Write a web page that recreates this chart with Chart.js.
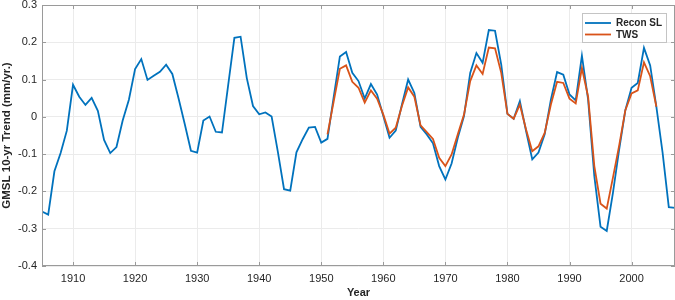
<!DOCTYPE html>
<html>
<head>
<meta charset="utf-8">
<script src="https://cdn.jsdelivr.net/npm/chart.js@4/dist/chart.umd.min.js"></script>
<style>
  html,body{margin:0;padding:0;background:#fff;}
  #wrap{width:675px;height:300px;position:relative;}
</style>
</head>
<body>
<div id="wrap"><canvas id="c"></canvas></div>
<script>
// years 1905..2007
const years=[1905,1906,1907,1908,1909,1910,1911,1912,1913,1914,1915,1916,1917,1918,1919,
  1920,1921,1922,1923,1924,1925,1926,1927,1928,1929,1930,1931,1932,1933,1934,1935,1936,1937,1938,1939,
  1940,1941,1942,1943,1944,1945,1946,1947,1948,1949,1950,1951,1952,1953,1954,1955,1956,1957,1958,1959,
  1960,1961,1962,1963,1964,1965,1966,1967,1968,1969,1970,1971,1972,1973,1974,1975,1976,1977,1978,1979,
  1980,1981,1982,1983,1984,1985,1986,1987,1988,1989,1990,1991,1992,1993,1994,1995,1996,1997,1998,1999,
  2000,2001,2002,2003,2004,2005,2006,2007];
const reconSL=[-0.254,-0.262,-0.146,-0.097,-0.037,
  0.086,0.054,0.032,0.051,0.016,-0.062,-0.097,-0.081,-0.010,0.046,
  0.128,0.155,0.099,0.110,0.121,0.140,0.115,0.050,-0.019,-0.091,
  -0.096,-0.010,0.001,-0.040,-0.042,0.085,0.212,0.215,0.104,0.029,
  0.007,0.012,0.001,-0.093,-0.194,-0.198,-0.095,-0.060,-0.029,-0.027,
  -0.069,-0.059,0.053,0.162,0.174,0.118,0.096,0.049,0.088,0.060,
  0.002,-0.056,-0.037,0.033,0.100,0.064,-0.027,-0.047,-0.071,-0.132,
  -0.168,-0.125,-0.056,0.002,0.118,0.171,0.145,0.233,0.231,0.140,
  0.008,-0.005,0.042,-0.038,-0.114,-0.096,-0.047,0.046,0.120,0.113,
  0.060,0.044,0.164,0.046,-0.159,-0.295,-0.306,-0.204,-0.088,0.018,
  0.078,0.091,0.185,0.138,0.027,-0.096,-0.242,-0.244];
// TWS 1951..2004
const twsYears=[1951,1952,1953,1954,1955,1956,1957,1958,1959,
  1960,1961,1962,1963,1964,1965,1966,1967,1968,1969,1970,1971,1972,1973,1974,1975,1976,1977,1978,1979,
  1980,1981,1982,1983,1984,1985,1986,1987,1988,1989,1990,1991,1992,1993,1994,1995,1996,1997,1998,1999,
  2000,2001,2002,2003,2004];
const tws=[-0.047,0.041,0.129,0.138,0.094,0.078,0.038,0.071,0.049,
  0.006,-0.045,-0.029,0.029,0.079,0.054,-0.023,-0.041,-0.059,-0.110,
  -0.132,-0.101,-0.047,0.006,0.096,0.138,0.115,0.186,0.184,0.118,
  0.008,-0.005,0.033,-0.034,-0.092,-0.079,-0.043,0.033,0.094,0.091,
  0.049,0.036,0.131,0.054,-0.132,-0.233,-0.246,-0.163,-0.077,0.018,
  0.063,0.071,0.146,0.109,0.027];
const xTicks=[1910,1920,1930,1940,1950,1960,1970,1980,1990,2000];
const yTicks=[-0.4,-0.3,-0.2,-0.1,0,0.1,0.2,0.3];

const FONT='"Liberation Sans", Arial, Helvetica, sans-serif';
const AXIS='#9a9a9a';

// MATLAB-like box with inward ticks
const boxPlugin={
  id:'box',
  afterDatasetsDraw(chart){
    const {ctx,chartArea:a,scales}=chart;
    ctx.save();
    ctx.strokeStyle=AXIS;ctx.lineWidth=1;
    ctx.strokeRect(a.left+0.5,a.top+0.5,a.right-a.left-1,a.bottom-a.top-1);
    ctx.beginPath();
    const L=4;
    xTicks.forEach(v=>{
      const x=Math.round(scales.x.getPixelForValue(v))+0.5;
      ctx.moveTo(x,a.bottom);ctx.lineTo(x,a.bottom-L);
      ctx.moveTo(x,a.top);ctx.lineTo(x,a.top+L);
    });
    yTicks.forEach(v=>{
      const y=Math.round(scales.y.getPixelForValue(v))+0.5;
      ctx.moveTo(a.left,y);ctx.lineTo(a.left+L,y);
      ctx.moveTo(a.right,y);ctx.lineTo(a.right-L,y);
    });
    ctx.stroke();
    ctx.restore();
  },
  afterDraw(chart){
    // legend box, top right inside the axes
    const {ctx}=chart;
    const ds=chart.data.datasets;
    ctx.save();
    ctx.fillStyle='#fff';
    ctx.fillRect(582,13.5,85,29);
    ctx.strokeStyle='#c4c4c4';ctx.lineWidth=1;
    ctx.strokeRect(582.5,13.5,84,29);
    ctx.font='bold 10px '+FONT;
    ctx.textBaseline='middle';
    ds.forEach((d,i)=>{
      const y=23+i*11.5;
      ctx.strokeStyle=d.borderColor;ctx.lineWidth=1.8;
      ctx.beginPath();ctx.moveTo(585,y);ctx.lineTo(611,y);ctx.stroke();
      ctx.fillStyle='#262626';
      ctx.fillText(d.label,616,y+0.5);
    });
    ctx.restore();
  }
};

new Chart(document.getElementById('c'),{
  type:'line',
  data:{
    datasets:[
      {label:'Recon SL',data:years.map((y,i)=>({x:y,y:reconSL[i]})),borderColor:'#0072BD',
       borderWidth:1.8,pointRadius:0,tension:0,order:1},
      {label:'TWS',data:twsYears.map((y,i)=>({x:y,y:tws[i]})),borderColor:'#D95319',
       borderWidth:1.8,pointRadius:0,tension:0,order:0}
    ]
  },
  options:{
    responsive:true,maintainAspectRatio:false,animation:false,
    layout:{padding:{top:5,right:0,left:0,bottom:0}},
    plugins:{legend:{display:false},tooltip:{enabled:false}},
    scales:{
      x:{
        type:'linear',min:1905,max:2007,
        afterBuildTicks(s){s.ticks=xTicks.map(v=>({value:v}));},
        afterFit(s){s.height=34;s.paddingLeft=0;s.paddingRight=0;},
        grid:{color:'#ebebeb',drawTicks:false},
        border:{display:false},
        ticks:{padding:6,color:'#262626',font:{family:FONT,size:11},callback:v=>String(v)},
        title:{display:true,text:'Year',color:'#262626',font:{family:FONT,size:11,weight:'bold'},padding:{top:0,bottom:0}}
      },
      y:{
        min:-0.4,max:0.3,
        afterBuildTicks(s){s.ticks=yTicks.map(v=>({value:v}));},
        afterFit(s){s.width=42;s.paddingTop=0;s.paddingBottom=0;},
        grid:{color:'#ebebeb',drawTicks:false},
        border:{display:false},
        ticks:{padding:5,color:'#262626',font:{family:FONT,size:11},callback:v=>String(Number(v.toFixed(1)))},
        title:{display:true,text:'GMSL 10-yr Trend (mm/yr.)',color:'#262626',font:{family:FONT,size:11.5,weight:'bold'},padding:{top:0,bottom:0}}
      }
    }
  },
  plugins:[boxPlugin]
});
</script>
</body>
</html>
